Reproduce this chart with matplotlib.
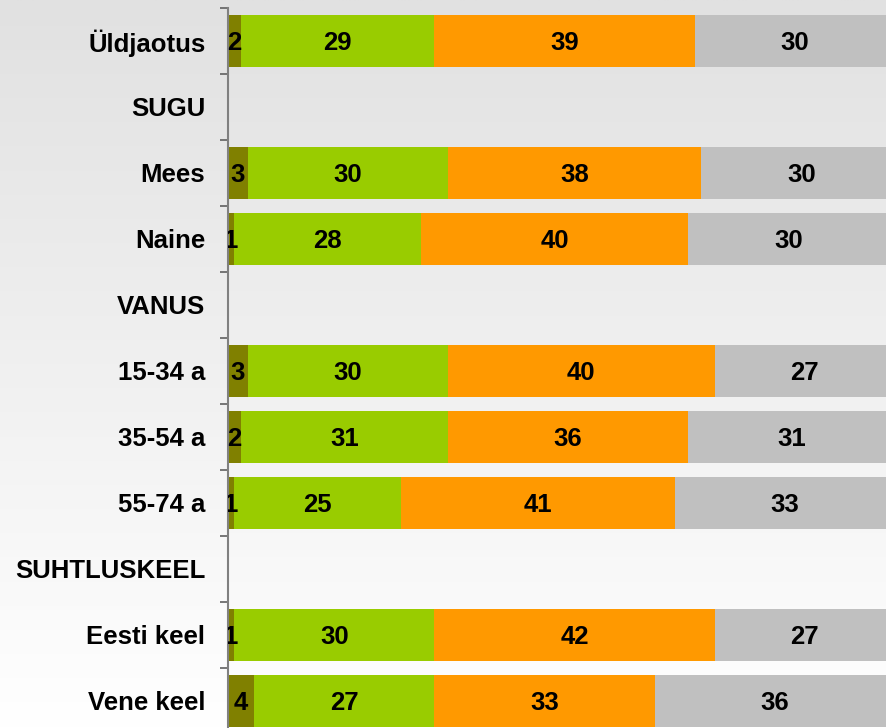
import numpy as np
import matplotlib
matplotlib.use("Agg")
import matplotlib.pyplot as plt

plt.rcParams["font.family"] = ["Liberation Sans", "DejaVu Sans"]

# Rows from top to bottom; header rows have no data
categories = ["Üldjaotus", "SUGU", "Mees", "Naine", "VANUS", "15-34 a",
              "35-54 a", "55-74 a", "SUHTLUSKEEL", "Eesti keel", "Vene keel"]
nan = np.nan
seg1 = [2, nan, 3, 1, nan, 3, 2, 1, nan, 1, 4]
seg2 = [29, nan, 30, 28, nan, 30, 31, 25, nan, 30, 27]
seg3 = [39, nan, 38, 40, nan, 40, 36, 41, nan, 42, 33]
seg4 = [30, nan, 30, 30, nan, 27, 31, 33, nan, 27, 36]
colors = ["#808000", "#99CC00", "#FF9900", "#C0C0C0"]

W, H = 886, 728
fig = plt.figure(figsize=(W / 100, H / 100), dpi=100)

# background gradient over the whole figure
bg = fig.add_axes([0, 0, 1, 1], zorder=-1)
grad = np.linspace(0xE1, 0xFF, 256) / 255.0
bg.imshow(np.tile(grad[:, None], (1, 2))[:, :, None].repeat(3, axis=2),
          aspect="auto", extent=[0, 1, 0, 1], interpolation="bilinear")
bg.axis("off")

left, right, top, bottom = 227.5, 895, 8, 734
ax = fig.add_axes([left / W, (H - bottom) / H, (right - left) / W, (bottom - top) / H])
ax.set_facecolor("none")

y = np.arange(len(categories))
cum = np.zeros(len(categories))
for vals, c in zip([seg1, seg2, seg3, seg4], colors):
    v = np.array(vals, dtype=float)
    ax.barh(y, np.nan_to_num(v), left=cum, height=0.773, color=c, linewidth=0)
    for yi, (l, w) in enumerate(zip(cum, v)):
        if not np.isnan(w):
            ax.text(l + w / 2, yi, f"{int(w)}", ha="center", va="center_baseline",
                    fontsize=18.5, fontweight="bold", color="black", clip_on=True)
    cum = cum + np.nan_to_num(v)

ax.set_xlim(0, 100)
ax.set_ylim(len(categories) - 0.5, -0.5)
ax.set_yticks(y)
ax.set_yticklabels(categories, fontsize=18.5, fontweight="bold")
ax.set_yticks(np.arange(len(categories) + 1) - 0.5, minor=True)
ax.tick_params(axis="y", which="major", length=0, pad=16)
ax.tick_params(axis="y", which="minor", length=6, width=1.2, color="#606060", direction="out")
ax.set_xticks([])
for s in ["top", "right", "bottom"]:
    ax.spines[s].set_visible(False)
ax.spines["left"].set_color("#808080")
ax.spines["left"].set_linewidth(1.5)

fig.savefig("out.png", dpi=100)
